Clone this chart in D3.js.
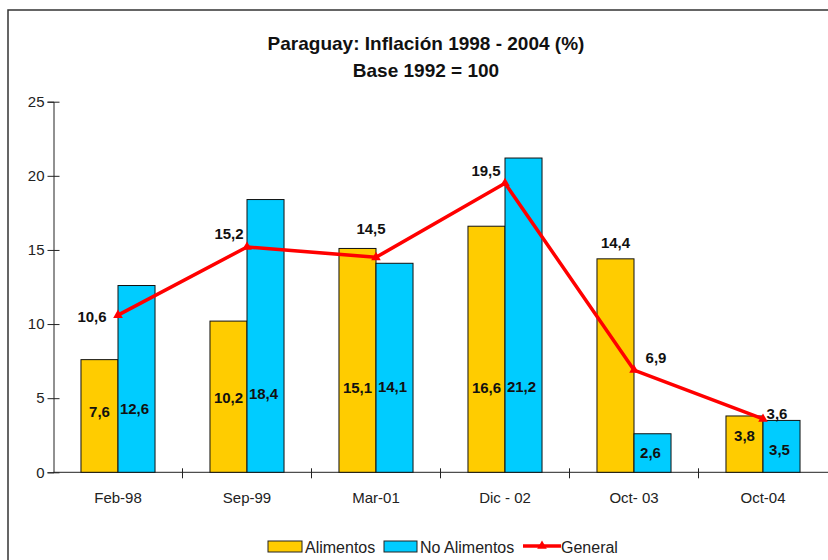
<!DOCTYPE html>
<html lang="es">
<head>
  <meta charset="UTF-8">
  <script src="https://cdn.jsdelivr.net/npm/d3@7"></script>
  <title>Paraguay inflación</title>
  <style>
    body { margin: 0; background: white; }
    text { font-family: "Liberation Sans", Arial, sans-serif; }
    .bar { stroke: #111; stroke-width: 1; }
    .lbl { font-weight: bold; font-size: 15px; fill: #111; }
    .axis text { font-size: 15px; fill: #222; }
    .legend text { font-size: 16px; fill: #222; }
    .title { font-weight: bold; font-size: 19px; fill: #111; }
  </style>
</head>
<body>
<script>
  // data
  const categories = ['Feb-98', 'Sep-99', 'Mar-01', 'Dic - 02', 'Oct- 03', 'Oct-04'];
  const alimentos = [7.6, 10.2, 15.1, 16.6, 14.4, 3.8];
  const noAlimentos = [12.6, 18.4, 14.1, 21.2, 2.6, 3.5];
  const general = [10.6, 15.2, 14.5, 19.5, 6.9, 3.6];
  const yTicks = [0, 5, 10, 15, 20, 25];

  // where the bar labels sit (value units, like the original excel chart)
  const aliLabelAt = [4.1, 5.0, 5.7, 5.7, 15.5, 2.45];
  const noAliLabelAt = [4.3, 5.3, 5.8, 5.8, 1.3, 1.5];
  // offsets for the general labels (px)
  const genLabelDx = [-26, -18, -5, -19, 22, 14];
  const genLabelDy = [2, -13, -29, -12, -12, -5];

  const fmt = v => String(v).replace('.', ',');

  const W = 828, H = 560;
  const svg = d3.select('body').append('svg')
    .attr('width', W).attr('height', H);

  // outer frame (right/bottom cut off in the original)
  svg.append('rect')
    .attr('x', 8).attr('y', 10)
    .attr('width', 900).attr('height', 700)
    .attr('fill', 'none').attr('stroke', '#333').attr('stroke-width', 1.5);

  svg.append('text').attr('class', 'title').attr('x', 426).attr('y', 50)
    .attr('text-anchor', 'middle')
    .text('Paraguay: Inflación 1998 - 2004 (%)');
  svg.append('text').attr('class', 'title').attr('x', 426).attr('y', 77)
    .attr('text-anchor', 'middle')
    .text('Base 1992 = 100');

  const x0 = d3.scaleBand().domain(categories)
    .range([53.5, 827.5]).paddingInner(0.426).paddingOuter(0.213);
  const x1 = d3.scaleBand().domain(['a', 'n']).range([0, x0.bandwidth()]);
  const y = d3.scaleLinear().domain([0, 25]).range([472.3, 101.7]);

  // y axis
  const yAxis = svg.append('g').attr('class', 'axis')
    .attr('transform', 'translate(53.5,0)')
    .call(d3.axisLeft(y).tickValues(yTicks).tickSize(6).tickPadding(6));
  yAxis.select('.domain').attr('stroke', '#222');
  yAxis.selectAll('.tick line').attr('x2', 6).attr('x1', -6).attr('stroke', '#222');
  yAxis.selectAll('.tick text').attr('x', -9).style('font-size', '15px').style('fill', '#222');

  // x axis: ticks between the groups
  const xg = svg.append('g').attr('class', 'axis');
  xg.append('line').attr('x1', 53.5).attr('x2', 828)
    .attr('y1', y(0)).attr('y2', y(0)).attr('stroke', '#222');
  const step = x0.step();
  xg.selectAll('line.tk').data(categories.slice(1)).enter().append('line')
    .attr('class', 'tk')
    .attr('x1', d => x0(d) - (step - x0.bandwidth()) / 2)
    .attr('x2', d => x0(d) - (step - x0.bandwidth()) / 2)
    .attr('y1', y(0) - 4).attr('y2', y(0) + 6).attr('stroke', '#222');
  xg.selectAll('text').data(categories).enter().append('text')
    .attr('x', d => x0(d) + x0.bandwidth() / 2)
    .attr('y', 498).attr('dy', '0.35em')
    .attr('text-anchor', 'middle')
    .text(d => d);

  // bars
  const rows = categories.map((c, i) => ({ c, i, a: alimentos[i], n: noAlimentos[i] }));
  const grp = svg.selectAll('g.grp').data(rows).enter().append('g')
    .attr('class', 'grp')
    .attr('transform', d => `translate(${x0(d.c)},0)`);

  grp.append('rect').attr('class', 'bar')
    .attr('x', x1('a')).attr('y', d => y(d.a))
    .attr('width', x1.bandwidth()).attr('height', d => y(0) - y(d.a))
    .attr('fill', '#ffcc00');
  grp.append('rect').attr('class', 'bar')
    .attr('x', x1('n')).attr('y', d => y(d.n))
    .attr('width', x1.bandwidth()).attr('height', d => y(0) - y(d.n))
    .attr('fill', '#00ccff');

  grp.append('text').attr('class', 'lbl')
    .attr('x', x1('a') + x1.bandwidth() / 2)
    .attr('y', d => y(aliLabelAt[d.i])).attr('dy', '0.35em')
    .attr('text-anchor', 'middle')
    .text(d => fmt(d.a));
  grp.append('text').attr('class', 'lbl')
    .attr('x', x1('n') + x1.bandwidth() / 2 - 2)
    .attr('y', d => y(noAliLabelAt[d.i])).attr('dy', '0.35em')
    .attr('text-anchor', 'middle')
    .text(d => fmt(d.n));

  // general line
  const cx = c => x0(c) + x0.bandwidth() / 2;
  const line = d3.line().x((d, i) => cx(categories[i])).y(d => y(d));
  svg.append('path').datum(general)
    .attr('d', line)
    .attr('fill', 'none').attr('stroke', '#ff0000')
    .attr('stroke-width', 3.5).attr('stroke-linejoin', 'round');
  const tri = d3.symbol().type(d3.symbolTriangle).size(40);
  svg.selectAll('path.mk').data(general).enter().append('path')
    .attr('class', 'mk')
    .attr('d', tri)
    .attr('transform', (d, i) => `translate(${cx(categories[i])},${y(d)})`)
    .attr('fill', '#ff0000');
  svg.selectAll('text.gl').data(general).enter().append('text')
    .attr('class', 'lbl gl')
    .attr('x', (d, i) => cx(categories[i]) + genLabelDx[i])
    .attr('y', (d, i) => y(d) + genLabelDy[i]).attr('dy', '0.35em')
    .attr('text-anchor', 'middle')
    .text(d => fmt(d));

  // legend
  const leg = svg.append('g').attr('class', 'legend');
  leg.append('rect').attr('x', 268).attr('y', 541).attr('width', 34).attr('height', 11)
    .attr('fill', '#ffcc00').attr('stroke', '#222');
  leg.append('text').attr('x', 305).attr('y', 547).attr('dy', '0.35em').text('Alimentos');
  leg.append('rect').attr('x', 384).attr('y', 541).attr('width', 33).attr('height', 11)
    .attr('fill', '#00ccff').attr('stroke', '#222');
  leg.append('text').attr('x', 420).attr('y', 547).attr('dy', '0.35em').text('No Alimentos');
  leg.append('line').attr('x1', 523).attr('x2', 561).attr('y1', 546).attr('y2', 546)
    .attr('stroke', '#ff0000').attr('stroke-width', 3.5);
  leg.append('path').attr('d', tri).attr('transform', 'translate(542,546)').attr('fill', '#ff0000');
  leg.append('text').attr('x', 561).attr('y', 547).attr('dy', '0.35em').text('General');
</script>
</body>
</html>
